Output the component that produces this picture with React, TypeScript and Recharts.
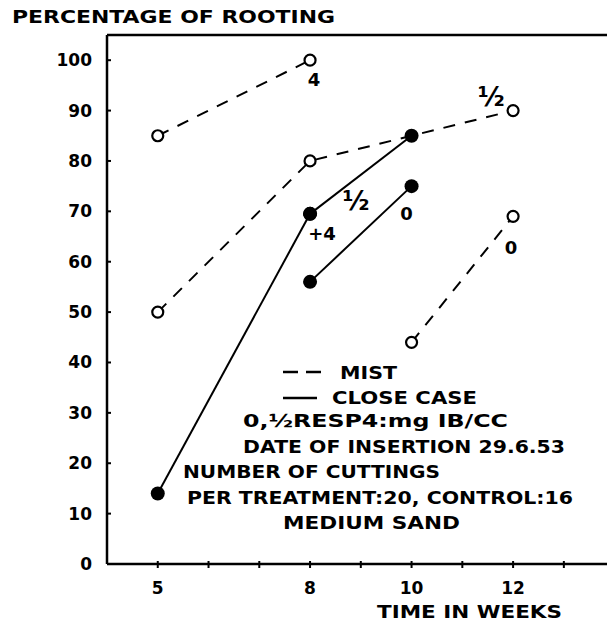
import React from "react";
import { LineChart, Line, XAxis, YAxis, ReferenceLine } from "recharts";

const FONT = '"DejaVu Sans", sans-serif';

// axes
const yTicks = [0, 10, 20, 30, 40, 50, 60, 70, 80, 90, 100];
const xTicks = [5, 6, 7, 8, 9, 10, 11, 12, 13];
const xLabelled = [5, 8, 10, 12];

// mist (dashed, open circles)
const mist4 = [
  { week: 5, pct: 85 },
  { week: 8, pct: 100 },
];
const mistHalf = [
  { week: 5, pct: 50 },
  { week: 8, pct: 80 },
  { week: 12, pct: 90 },
];
const mist0 = [
  { week: 10, pct: 44 },
  { week: 12, pct: 69 },
];

// close case (solid, filled dots)
const close4 = [
  { week: 5, pct: 14 },
  { week: 8, pct: 69.5 },
];
const closeHalf = [
  { week: 8, pct: 69.5 },
  { week: 10, pct: 85 },
];
const close0 = [
  { week: 8, pct: 56 },
  { week: 10, pct: 75 },
];

const noteLines = [
  "0,½RESP4:mg IB/CC",
  "DATE OF INSERTION 29.6.53",
  "NUMBER OF CUTTINGS",
  "PER TREATMENT:20, CONTROL:16",
  "MEDIUM SAND",
];
// x, y (baseline), width
const noteLayout = [
  [243, 427, 265],
  [243, 453, 322],
  [183, 478, 257],
  [187, 504, 386],
  [283, 529, 177],
];

function OpenDot({ cx, cy, index }: any) {
  if (cx == null || cy == null) return null;
  return <circle key={`o-${index}`} cx={cx} cy={cy} r={5.5} fill="#fff" stroke="#000" strokeWidth={2.2} />;
}

function SolidDot({ cx, cy, index }: any) {
  if (cx == null || cy == null) return null;
  return <circle key={`s-${index}`} cx={cx} cy={cy} r={7} fill="#000" stroke="none" />;
}

function pointLabel(text: string, index: number, dx: number, dy: number, size = 18) {
  return (p: any) => {
    if (p.index !== index) return null;
    return (
      <text
        key={`lbl-${text}-${index}`}
        x={p.x + dx}
        y={p.y + dy}
        dy="0.35em"
        textAnchor="middle"
        fontFamily={FONT}
        fontWeight="bold"
        fontSize={size}
        fill="#000"
      >
        {text}
      </text>
    );
  };
}

function YTick({ x, y, payload }: any) {
  return (
    <g>
      <line x1={x + 15} x2={x + 19} y1={y} y2={y} stroke="#000" strokeWidth={2} />
      <text
        x={x}
        y={y}
        dy="0.35em"
        textAnchor="end"
        fontFamily={FONT}
        fontWeight="bold"
        fontSize={17}
        fill="#000"
      >
        {payload.value}
      </text>
    </g>
  );
}

function XTick({ x, y, payload }: any) {
  const show = xLabelled.includes(payload.value);
  return (
    <g>
      <line x1={x} x2={x} y1={y - 27} y2={y - 20} stroke="#000" strokeWidth={2} />
      {show && (
        <text
          x={x}
          y={y}
          dy="0.35em"
          textAnchor="middle"
          fontFamily={FONT}
          fontWeight="bold"
          fontSize={17}
          fill="#000"
        >
          {payload.value}
        </text>
      )}
    </g>
  );
}

export default function App() {
  const txt = { fontFamily: FONT, fontWeight: "bold" as const, fill: "#000" };
  return (
    <div style={{ position: "absolute", left: 0, top: 0, width: 607, height: 624, background: "#fff" }}>
      <LineChart
        width={607}
        height={624}
        margin={{ top: 35, right: 0, bottom: 0, left: 0 }}
      >
        <XAxis
          type="number"
          dataKey="week"
          domain={[4, 13.85]}
          ticks={xTicks}
          allowDataOverflow
          height={60}
          tickSize={0}
          tickMargin={24}
          tick={<XTick />}
          axisLine={{ stroke: "#000", strokeWidth: 2.5 }}
        />
        <YAxis
          type="number"
          dataKey="pct"
          domain={[0, 105]}
          ticks={yTicks}
          allowDataOverflow
          width={107}
          tickSize={0}
          tickMargin={15}
          tick={<YTick />}
          axisLine={{ stroke: "#000", strokeWidth: 2.5 }}
        />
        <ReferenceLine y={105} stroke="#000" strokeWidth={2.5} />

        <Line data={mist4} dataKey="pct" stroke="#000" strokeWidth={2} strokeDasharray="12 10"
          dot={<OpenDot />} isAnimationActive={false} label={pointLabel("4", 1, 4, 20)} />
        <Line data={mistHalf} dataKey="pct" stroke="#000" strokeWidth={2} strokeDasharray="12 10"
          dot={<OpenDot />} isAnimationActive={false} label={pointLabel("½", 2, -22, -14, 26)} />
        <Line data={mist0} dataKey="pct" stroke="#000" strokeWidth={2} strokeDasharray="12 10"
          dot={<OpenDot />} isAnimationActive={false} label={pointLabel("0", 1, -2, 31)} />

        <Line data={close4} dataKey="pct" stroke="#000" strokeWidth={2}
          dot={<SolidDot />} isAnimationActive={false} label={pointLabel("+4", 1, 12, 20)} />
        <Line data={closeHalf} dataKey="pct" stroke="#000" strokeWidth={2}
          dot={<SolidDot />} isAnimationActive={false} label={pointLabel("½", 0, 46, -13, 26)} />
        <Line data={close0} dataKey="pct" stroke="#000" strokeWidth={2}
          dot={<SolidDot />} isAnimationActive={false} label={pointLabel("0", 1, -5, 28)} />
      </LineChart>

      <svg
        width={607}
        height={624}
        style={{ position: "absolute", left: 0, top: 0, pointerEvents: "none" }}
      >
        <text x={12} y={23} fontSize={18} textLength={323} lengthAdjust="spacingAndGlyphs" {...txt}>
          PERCENTAGE OF ROOTING
        </text>
        <line x1={283} x2={298} y1={372} y2={372} stroke="#000" strokeWidth={2.5} />
        <line x1={306} x2={321} y1={372} y2={372} stroke="#000" strokeWidth={2.5} />
        <text x={340} y={379} fontSize={18} textLength={57} lengthAdjust="spacingAndGlyphs" {...txt}>
          MIST
        </text>
        <line x1={283} x2={317} y1={398} y2={398} stroke="#000" strokeWidth={2.5} />
        <text x={332} y={404} fontSize={18} textLength={145} lengthAdjust="spacingAndGlyphs" {...txt}>
          CLOSE CASE
        </text>
        {noteLines.map((s, i) => (
          <text
            key={s}
            x={noteLayout[i][0]}
            y={noteLayout[i][1]}
            fontSize={18}
            textLength={noteLayout[i][2]}
            lengthAdjust="spacingAndGlyphs"
            {...txt}
          >
            {s}
          </text>
        ))}
        <text x={377} y={618} fontSize={17} textLength={185} lengthAdjust="spacingAndGlyphs" {...txt}>
          TIME IN WEEKS
        </text>
      </svg>
    </div>
  );
}
